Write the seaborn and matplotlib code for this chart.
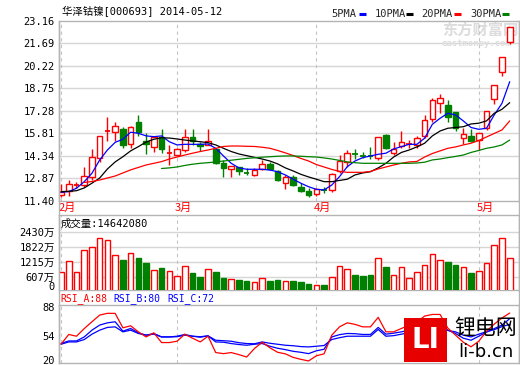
import numpy as np
import pandas as pd
import matplotlib
matplotlib.use("Agg")
import matplotlib.pyplot as plt
from matplotlib.patches import Rectangle
from matplotlib.lines import Line2D
import seaborn as sns

sns.set_theme(style="white")
plt.rcParams["font.family"] = ["DejaVu Sans Mono", "Noto Sans CJK SC"]

# -----------------------------
# Data, one entry per trading day
# -----------------------------
opens = [11.78, 12.04, 12.42, 12.43, 12.94, 14.18, 15.94, 15.88, 16.09, 15.09,
         16.57, 15.31, 14.90, 15.59, 14.49,
         14.41, 14.72, 15.59, 15.13, 15.05, 14.77, 13.89, 13.48, 13.61, 13.27,
         13.11, 13.48, 13.83, 13.35, 12.59, 12.94, 12.31, 12.07,
         11.87, 12.10, 12.09, 13.35, 13.92, 14.50, 14.33, 14.33, 14.22, 15.70,
         14.50, 15.00, 15.09, 15.05, 15.66, 16.75, 17.77, 17.66, 17.22, 15.49, 15.64,
         15.37, 16.14, 18.05, 19.84, 21.80]
highs = [12.50, 12.74, 12.61, 13.59, 14.77, 15.64, 16.88, 16.57, 16.24, 16.31,
         17.01, 15.81, 15.64, 16.07, 15.05,
         14.85, 16.09, 16.09, 15.22, 16.07, 14.77, 14.07, 13.70, 13.61, 13.53,
         13.53, 14.07, 13.94, 13.41, 13.09, 13.09, 12.55, 12.22,
         12.22, 12.32, 13.20, 14.39, 14.72, 14.79, 14.61, 14.94, 15.59, 15.74,
         15.22, 15.96, 15.37, 15.66, 17.01, 18.14, 18.36, 17.99, 17.22, 16.14, 16.07,
         15.81, 17.29, 18.97, 20.78, 22.77]
lows = [11.65, 11.70, 12.22, 12.32, 12.76, 13.96, 15.31, 15.31, 14.87, 14.83,
        15.65, 14.44, 14.57, 14.51, 13.74,
        14.35, 14.57, 15.05, 14.66, 15.05, 13.79, 12.98, 12.98, 13.09, 13.09,
        13.04, 13.41, 13.41, 12.68, 12.19, 12.35, 11.98, 11.63,
        11.74, 11.89, 12.00, 13.20, 13.63, 14.13, 14.18, 14.13, 14.07, 14.79,
        14.39, 14.83, 14.83, 14.88, 15.48, 16.57, 17.12, 16.57, 15.98, 15.09, 15.26,
        14.72, 16.03, 17.71, 19.57, 21.63]
closes = [11.96, 12.52, 12.45, 13.02, 14.26, 15.62, 15.96, 16.29, 15.05, 16.22,
          15.88, 15.11, 15.55, 14.77, 14.51,
          14.80, 15.59, 15.29, 15.00, 15.29, 13.85, 13.56, 13.70, 13.37, 13.22,
          13.41, 13.79, 13.48, 12.74, 12.94, 12.45, 12.07, 11.78,
          12.16, 12.08, 13.13, 14.00, 14.51, 14.45, 14.30, 14.31, 15.59, 14.83,
          14.79, 15.26, 15.11, 15.52, 16.68, 17.99, 18.14, 16.90, 16.14, 15.75, 15.33,
          15.81, 17.29, 18.97, 20.78, 22.77]

# volume in units of 万 shares
volume = [786, 1243, 786, 1677, 1798, 2163, 2094, 1474, 1284, 1555,
          1365, 1162, 867, 960, 826,
          636, 1041, 757, 608, 919, 798, 555, 514, 474, 433,
          381, 555, 433, 474, 421, 433, 393, 312,
          259, 271, 595, 1029, 907, 664, 636, 676, 1353, 1000,
          664, 988, 555, 786, 1069, 1515, 1272, 1203, 1081, 988, 757,
          826, 1150, 1879, 2163, 1353]

ma5 = [11.96, 12.00, 12.22, 12.65, 13.20, 14.07, 14.72, 15.22, 15.42, 15.88,
       15.81, 15.64, 15.59, 15.64, 15.26,
       15.05, 15.09, 15.09, 15.09, 15.11, 14.83, 14.33, 13.85, 13.55, 13.46,
       13.46, 13.46, 13.41, 13.30, 13.09, 12.81, 12.55, 12.32,
       12.15, 12.11, 12.43, 12.98, 13.63, 14.00, 14.22, 14.33, 14.44, 14.51,
       14.79, 14.94, 15.09, 15.09, 15.49, 16.40, 16.79, 17.12, 17.01, 16.62, 16.19,
       16.07, 16.14, 17.01, 17.77, 19.18]
ma10 = [12.00, 12.02, 12.06, 12.24, 12.55, 12.89, 13.48, 13.94, 14.28, 14.66,
        14.94, 15.24, 15.42, 15.52, 15.50,
        15.44, 15.37, 15.31, 15.26, 15.20, 15.05, 14.83, 14.62, 14.46, 14.35,
        14.24, 14.13, 14.00, 13.81, 13.55, 13.35, 13.13, 12.96,
        12.81, 12.65, 12.65, 12.73, 12.81, 13.09, 13.22, 13.30, 13.55, 13.85,
        14.26, 14.56, 14.72, 14.92, 15.16, 15.64, 15.96, 16.14, 16.19, 16.24, 16.42,
        16.47, 16.62, 17.12, 17.38, 17.81]
ma20 = [12.60, 12.66, 12.76, 12.89, 13.02, 13.22, 13.42, 13.58, 13.74, 13.85,
        13.96, 14.13,
        14.26, 14.39, 14.51, 14.62, 14.72, 14.83, 14.95, 14.98, 14.98, 14.96,
        14.95, 14.90, 14.83, 14.69, 14.53, 14.36, 14.17, 14.00,
        13.77, 13.61, 13.45, 13.32, 13.26, 13.26, 13.26, 13.32, 13.48, 13.61,
        13.74, 13.85, 13.94, 13.97, 14.26, 14.49, 14.66, 14.83, 14.92, 15.05, 15.16,
        15.34, 15.57, 15.80, 16.03, 16.62]
ma30 = [13.51, 13.55,
        13.61, 13.71, 13.79, 13.85, 13.89, 13.94, 14.00, 14.05, 14.11, 14.17,
        14.21, 14.25, 14.28, 14.31, 14.33, 14.33, 14.31, 14.28,
        14.26, 14.20, 14.13, 14.04, 13.94, 13.89, 13.85, 13.85, 13.85, 13.85,
        13.85, 13.85, 13.85, 13.87, 13.92, 14.07, 14.13, 14.22, 14.30, 14.39, 14.56,
        14.69, 14.83, 14.92, 15.05, 15.37]

rsi_a = [43.7, 57.6, 55.1, 65.9, 75.6, 85.1, 87.6, 87.5, 67.0, 69.9,
         61.3, 54.1, 59.9, 46.1, 46.1,
         48.0, 58.0, 52.3, 47.0, 55.1, 31.9, 30.4, 31.9, 29.0, 25.6,
         37.6, 46.6, 38.7, 32.3, 30.1, 25.1, 22.3, 20.0,
         27.3, 30.1, 56.6, 68.4, 74.1, 71.9, 68.4, 68.4, 81.9, 61.3,
         61.3, 66.1, 70.9, 75.1, 83.7, 86.0, 86.0, 66.6, 56.6, 46.6, 40.1,
         48.0, 62.3, 72.3, 80.9, 88.0]
rsi_b = [44.7, 48.4, 48.4, 54.1, 63.7, 70.9, 74.1, 75.6, 62.3, 66.1,
         59.9, 56.6, 59.0, 54.1, 54.1,
         55.1, 57.6, 55.1, 53.7, 55.6, 47.0, 46.6, 44.7, 43.3, 42.3,
         43.7, 44.7, 40.9, 38.0, 36.1, 33.7, 32.3, 30.4,
         34.4, 36.6, 54.1, 57.3, 59.0, 58.7, 57.6, 57.6, 67.6, 58.0,
         59.4, 61.3, 63.7, 65.9, 68.0, 70.1, 72.3, 63.7, 59.0, 52.3, 49.4,
         55.1, 60.9, 65.9, 70.9, 80.0]
rsi_c = [43.7, 47.0, 47.0, 50.4, 58.0, 63.7, 67.6, 68.4, 61.3, 63.7,
         59.0, 56.6, 58.0, 54.1, 54.1,
         54.4, 56.6, 55.1, 54.4, 55.6, 49.4, 48.7, 48.0, 45.9, 44.7,
         44.4, 47.0, 45.1, 43.7, 42.3, 41.6, 40.4, 39.9,
         40.9, 41.9, 50.4, 53.0, 55.1, 55.1, 55.1, 55.1, 64.7, 55.1,
         55.9, 58.0, 60.1, 62.3, 64.4, 66.6, 68.4, 63.3, 61.3, 56.6, 54.1,
         58.0, 61.6, 64.4, 68.7, 72.0]

month_idx = [0, 15, 33, 54]
month_lbl = ["2月", "3月", "4月", "5月"]
price_ticks = [23.16, 21.69, 20.22, 18.75, 17.28, 15.81, 14.34, 12.87, 11.40]
vol_grid = [607.5, 1215, 1822.5, 2430]
vol_lbl = ["0", "607万", "1215万", "1822万", "2430万"]

# -----------------------------
# Layout helpers (pixel -> figure coords)
# -----------------------------
W, H = 520, 365
def fx(x):
    return x / W
def fy(y):
    return 1 - y / H

RED, GREEN, BLUE = "#ff0000", "#008000", "#0000ff"
FRAME, GRID, VLINE = "#b4b4b4", "#d6d6d6", "#c4c4c4"
CJK = ["Noto Sans CJK SC", "DejaVu Sans"]

n = len(closes)
idx = np.arange(n)
up = [c >= o for o, c in zip(opens, closes)]
XL = (-0.26, 59.2)
BW = 0.72

fig = plt.figure(figsize=(5.2, 3.65), dpi=100)
fig.patch.set_facecolor("white")
L, R = 59, 519
ax_p = fig.add_axes([fx(L), fy(200.8), (R - L) / W, 180 / H])
ax_v = fig.add_axes([fx(L), fy(289.5), (R - L) / W, 74.5 / H])
ax_r = fig.add_axes([fx(L), fy(363), (R - L) / W, 58 / H])

for ax in (ax_p, ax_v, ax_r):
    ax.set_xlim(*XL)
    ax.set_xticks([])
    ax.tick_params(axis="y", length=0, pad=3, labelsize=7.5, colors="black")
    for s in ax.spines.values():
        s.set_color(FRAME)
        s.set_linewidth(1)
    for m in month_idx:
        ax.axvline(m, color=VLINE, lw=0.8, ls=(0, (3, 3)), zorder=1)

# -----------------------------
# Price panel: candles + moving averages
# -----------------------------
ax_p.set_ylim(11.40, 23.16)
ax_p.set_yticks(price_ticks)
ax_p.set_yticklabels([f"{v:.2f}" for v in price_ticks])
for v in price_ticks[1:-1]:
    ax_p.axhline(v, color=GRID, lw=1, zorder=0.5)

for i in range(n):
    o, h, l, c = opens[i], highs[i], lows[i], closes[i]
    col = RED if up[i] else GREEN
    ax_p.vlines(i, l, h, color=col, lw=1, zorder=3)
    if abs(c - o) < 0.06:
        ax_p.hlines((o + c) / 2, i - BW / 2, i + BW / 2, color=col, lw=1.3, zorder=4)
    else:
        ax_p.bar(i, abs(c - o), bottom=min(o, c), width=BW,
                 facecolor="white" if up[i] else GREEN, edgecolor=col,
                 lw=1, zorder=4)

sns.lineplot(x=idx, y=ma5, color=BLUE, lw=0.9, ax=ax_p, zorder=5)
sns.lineplot(x=idx, y=ma10, color="black", lw=0.9, ax=ax_p, zorder=5)
sns.lineplot(x=idx[n - len(ma20):], y=ma20, color=RED, lw=0.9, ax=ax_p, zorder=5)
sns.lineplot(x=idx[n - len(ma30):], y=ma30, color=GREEN, lw=0.9, ax=ax_p, zorder=5)
ax_p.set_xlim(*XL)
ax_p.set_xlabel("")
ax_p.set_ylabel("")

for m, lbl in zip(month_idx, month_lbl):
    ax_p.text(m - 0.27, -0.042, lbl, transform=ax_p.get_xaxis_transform(),
              ha="left", va="center", color=RED, fontsize=8, family=CJK,
              clip_on=False)

# eastmoney watermark (behind candles)
ax_p.text(fx(442), fy(30), "东方财富网", transform=fig.transFigure, fontsize=11,
          family=CJK, fontweight="bold", color="#dcdcdc", va="center", zorder=0.6)
ax_p.text(fx(442), fy(43.5), "eastmoney.com", transform=fig.transFigure,
          fontsize=6.5, fontweight="bold", color="#dcdcdc", va="center", zorder=0.6)

# -----------------------------
# Volume panel
# -----------------------------
ax_v.set_ylim(89, 3106)
ax_v.set_yticks([243] + vol_grid)
ax_v.set_yticklabels(vol_lbl)
for v in vol_grid:
    ax_v.axhline(v, color=GRID, lw=1, zorder=0.5)
for i in range(n):
    ax_v.bar(i, volume[i], width=BW, facecolor="white" if up[i] else GREEN,
             edgecolor=RED if up[i] else GREEN, lw=1, zorder=3)
ax_v.text(0.003, 0.955, "成交量:14642080", transform=ax_v.transAxes,
          ha="left", va="top", fontsize=7.5, color="black")

# -----------------------------
# RSI panel
# -----------------------------
ax_r.set_ylim(17.1, 99.4)
ax_r.set_yticks([97, 55.6, 20.9])
ax_r.set_yticklabels(["88", "54", "20"])
sns.lineplot(x=idx, y=rsi_c, color=BLUE, lw=0.9, ax=ax_r, zorder=4)
sns.lineplot(x=idx, y=rsi_b, color=BLUE, lw=0.9, ax=ax_r, zorder=4)
sns.lineplot(x=idx, y=rsi_a, color=RED, lw=0.9, ax=ax_r, zorder=5)
ax_r.set_xlim(*XL)
ax_r.set_xlabel("")
ax_r.set_ylabel("")

# -----------------------------
# Header texts, legend, side borders
# -----------------------------
fig.text(fx(62), fy(12), "华泽钴镍[000693] 2014-05-12", fontsize=7.5,
         va="center", ha="left", color="black")

leg = [("5PMA", 331.5, 359, BLUE), ("10PMA", 375, 406, "black"),
       ("20PMA", 421.5, 454, RED), ("30PMA", 470, 502, GREEN)]
for name, tx, dx, col in leg:
    fig.text(fx(tx), fy(14), name, fontsize=7.5, va="center", ha="left")
    fig.add_artist(Line2D([fx(dx), fx(dx + 7)], [fy(14), fy(14)],
                          color=col, lw=2.2, solid_capstyle="butt"))

for name, tx, col in [("RSI_A:88", 60, RED), ("RSI_B:80", 113, BLUE),
                      ("RSI_C:72", 167, BLUE)]:
    fig.text(fx(tx), fy(298.5), name, fontsize=7, va="center", ha="left", color=col)

for xb in (L, R):
    fig.add_artist(Line2D([fx(xb), fx(xb)], [fy(20.8), fy(363)], color=FRAME, lw=1))

# li-b.cn logo
fig.add_artist(Rectangle((fx(404), fy(362)), 43 / W, 44 / H,
                         transform=fig.transFigure, facecolor="#e60000",
                         edgecolor="none", zorder=6))
fig.text(fx(425.5), fy(340), "LI", fontsize=20, fontweight="bold", color="white",
         ha="center", va="center", family=["DejaVu Sans"], zorder=7)
fig.text(fx(486), fy(328), "锂电网", fontsize=15, color="black", family=CJK,
         ha="center", va="center", zorder=7)
fig.text(fx(486), fy(352), "li-b.cn", fontsize=13, color="black",
         family=["DejaVu Sans"], ha="center", va="center", zorder=7)

fig.savefig("out.png", dpi=100, facecolor="white")
